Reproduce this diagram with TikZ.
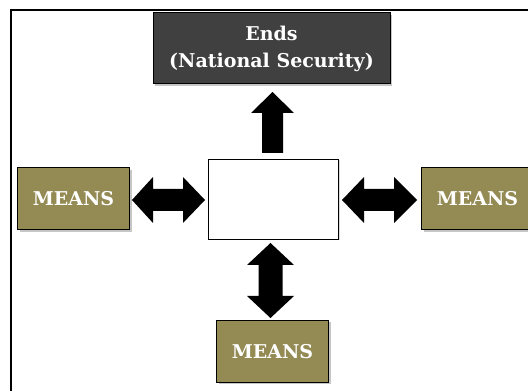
\documentclass[tikz,border=0pt]{standalone}
\usepackage{fontspec}
\newfontfamily\boxfont{DejaVu Serif}
\usetikzlibrary{shadows}
\definecolor{endsgray}{HTML}{404040}
\definecolor{meansolive}{HTML}{948A54}
\begin{document}
\begin{tikzpicture}[x=1pt,y=1pt,
  boxbase/.style={draw=black,line width=1pt,
    drop shadow={shadow xshift=2pt,shadow yshift=-2pt,opacity=0.45},
    text=white,font=\boxfont\bfseries\fontsize{19}{27}\selectfont,align=center,inner sep=0pt},
  endsbox/.style={boxbase,fill=endsgray,minimum width=237pt,minimum height=71pt},
  meansbox/.style={boxbase,fill=meansolive,minimum width=112pt,minimum height=62pt},
  centerbox/.style={draw=black,line width=0.8pt,fill=white,minimum width=130pt,minimum height=80pt,
    drop shadow={shadow xshift=1.5pt,shadow yshift=-1.5pt,opacity=0.3}},
  blockarrow/.style={fill=black}
]
\useasboundingbox (0,0) rectangle (528,391);
% frame
\draw[line width=2pt] (10.5,0) -- (10.5,380.5) -- (528,380.5);

\node[endsbox] (ends) at (271.5,342.5) {Ends\\(National Security)};
\node[centerbox] (c) at (273,192) {};
\node[meansbox] (ml) at (73.5,192) {MEANS};
\node[meansbox] (mr) at (477.5,192) {MEANS};
\node[meansbox] (mb) at (272.5,39.5) {MEANS};

% up arrow (center -> ends)
\fill[blockarrow] (262,238) -- (262,278) -- (251,278) -- (272.5,299) -- (294,278) -- (283,278) -- (283,238) -- cycle;
% left double arrow
\fill[blockarrow] (132,191) -- (153,214) -- (153,202) -- (183,202) -- (183,214) -- (205,191)
  -- (183,168) -- (183,180) -- (153,180) -- (153,168) -- cycle;
% right double arrow
\fill[blockarrow] (342,191) -- (364,214) -- (364,202) -- (394,202) -- (394,214) -- (417,191)
  -- (394,168) -- (394,180) -- (364,180) -- (364,168) -- cycle;
% bottom double arrow
\fill[blockarrow] (270.5,148) -- (294,126) -- (282.5,126) -- (282.5,95) -- (294,95) -- (270.5,73)
  -- (247,95) -- (258.5,95) -- (258.5,126) -- (247,126) -- cycle;
\end{tikzpicture}
\end{document}
